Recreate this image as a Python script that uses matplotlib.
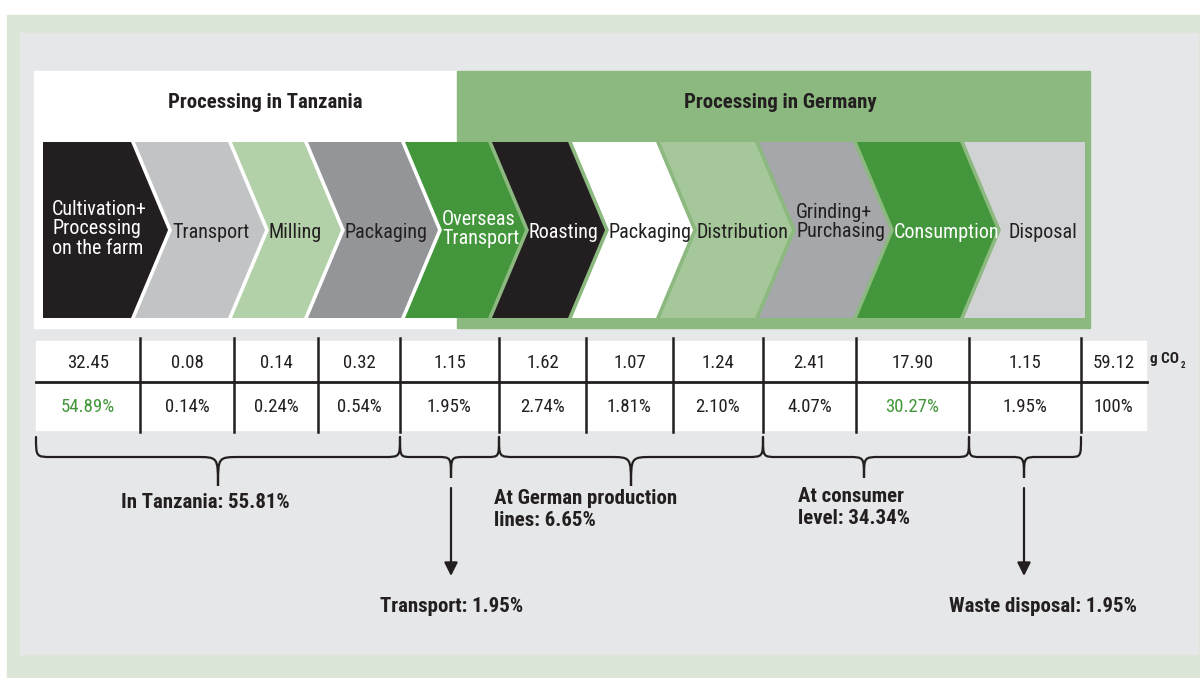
import matplotlib
matplotlib.use("Agg")
import matplotlib.pyplot as plt
from matplotlib.patches import Rectangle, Polygon, PathPatch
from matplotlib.path import Path

plt.rcParams['font.family'] = ['Roboto Condensed', 'DejaVu Sans']

# ---------------- data ----------------
stages = ['Cultivation+\nProcessing\non the farm', 'Transport', 'Milling', 'Packaging',
          'Overseas\nTransport', 'Roasting', 'Packaging', 'Distribution',
          'Grinding+\nPurchasing', 'Consumption', 'Disposal']
stage_colors = ['#231f20', '#c2c3c5', '#b3d1a8', '#949598', '#43963b', '#231f20',
                '#ffffff', '#a5c799', '#a6a7aa', '#43963b', '#d1d2d4']
stage_text_colors = ['#ffffff', '#231f20', '#231f20', '#231f20', '#ffffff', '#ffffff',
                     '#231f20', '#231f20', '#231f20', '#ffffff', '#231f20']
co2_values = [32.45, 0.08, 0.14, 0.32, 1.15, 1.62, 1.07, 1.24, 2.41, 17.90, 1.15, 59.12]
shares = [54.89, 0.14, 0.24, 0.54, 1.95, 2.74, 1.81, 2.10, 4.07, 30.27, 1.95, 100]
highlight = [True, False, False, False, False, False, False, False, False, True, False, False]
region_titles = ['Processing in Tanzania', 'Processing in Germany']
groups = ['In Tanzania: 55.81%', 'Transport: 1.95%', 'At German production\nlines: 6.65%',
          'At consumer\nlevel: 34.34%', 'Waste disposal: 1.95%']

# ---------------- layout ----------------
W, H = 1200, 678
DARK = '#231f20'
GREEN = '#43963b'
BOX_GREEN = '#8cb97f'
fig = plt.figure(figsize=(12, 6.78), dpi=100)
ax = fig.add_axes([0, 0, 1, 1])
ax.set_xlim(0, W)
ax.set_ylim(H, 0)
ax.axis('off')

ax.add_patch(Rectangle((0, 0), W, H, color='white', zorder=0))
ax.add_patch(Rectangle((7, 15), W, H, color='#dce6d6', zorder=0))
ax.add_patch(Rectangle((20, 33), 1178, 621, color='#e6e7e9', zorder=0))

# region boxes
ax.add_patch(Rectangle((34, 71), 423, 257, color='white', zorder=1))
ax.add_patch(Rectangle((457, 71), 633, 257, color=BOX_GREEN, zorder=1))
tfont = dict(fontsize=15, fontweight='bold', color=DARK, ha='center', va='center')
ax.text(265, 102, region_titles[0], **tfont)
ax.text(780, 102, region_titles[1], **tfont)

# chevrons
top, bot, mid, d = 142, 318, 230, 37
x_first, x_last = 43, 1085
xr = [133, 230, 306, 403, 490, 570, 658, 757, 855, 962]
n = len(stages)
for i in range(n):
    if i == 0:
        left = [(x_first, bot), (x_first, top)]
    else:
        left = [(xr[i - 1], bot), (xr[i - 1] + d, mid), (xr[i - 1], top)]
    if i == n - 1:
        right = [(x_last, top), (x_last, bot)]
    else:
        right = [(xr[i], top), (xr[i] + d, mid), (xr[i], bot)]
    ax.add_patch(Polygon(left + right, closed=True, facecolor=stage_colors[i],
                         edgecolor='none', zorder=2))
    tx = x_first + 9 if i == 0 else xr[i - 1] + d + 2
    if i == n - 1:
        tx += 8
    nlines = stages[i].count('\n') + 1
    if nlines == 1:
        ty = mid + 3
    elif i == 8:
        ty = mid - 8
    else:
        ty = mid - 1
    ax.text(tx, ty, stages[i], fontsize=14.5, color=stage_text_colors[i],
            ha='left', va='center', linespacing=1.05, zorder=4)
for x in xr:
    col = 'white' if x < 457 else BOX_GREEN
    ax.plot([x, x + d, x], [top, mid, bot], color=col, lw=2.6, zorder=3,
            solid_joinstyle='miter')

# table
bounds = [36, 140, 234, 318, 400, 499, 586, 673, 763, 856, 969, 1081, 1146]
t_top, t_mid, t_bot = 341, 382, 430
ax.add_patch(Rectangle((bounds[0], t_top), bounds[-1] - bounds[0], t_bot - t_top,
                       color='white', zorder=1))
ax.plot([bounds[0], bounds[-1] + 1], [t_mid, t_mid], color=DARK, lw=2.0, zorder=3)
for x in bounds[1:-1]:
    ax.plot([x, x], [t_top - 3, t_bot + 2], color=DARK, lw=1.8, zorder=3)
for i, (v, s) in enumerate(zip(co2_values, shares)):
    cx = (bounds[i] + bounds[i + 1]) / 2
    ax.text(cx, (t_top + t_mid) / 2 + 1, f'{v:.2f}', fontsize=13.5, color=DARK,
            ha='center', va='center', zorder=4)
    stxt = f'{s:.2f}%' if s != 100 else '100%'
    ax.text(cx, (t_mid + t_bot) / 2 + 1, stxt, fontsize=13.5,
            color=GREEN if highlight[i] else DARK, ha='center', va='center', zorder=4)
ax.text(1150, 359, 'g CO', fontsize=11, fontweight='bold', color=DARK,
        ha='left', va='center')
ax.text(1181, 365, '2', fontsize=6.5, fontweight='bold', color=DARK,
        ha='left', va='center')


# braces
def brace(x0, x1, xm, ytop, yh, ytip, r=16, r2=22):
    verts = [(x0, ytop), (x0, yh), (x0, yh), (x0 + r, yh),
             (xm - r2, yh),
             (xm, yh), (xm, yh), (xm, ytip),
             (xm, yh), (xm, yh), (xm + r2, yh),
             (x1 - r, yh),
             (x1, yh), (x1, yh), (x1, ytop)]
    codes = [Path.MOVETO, Path.CURVE4, Path.CURVE4, Path.CURVE4,
             Path.LINETO,
             Path.CURVE4, Path.CURVE4, Path.CURVE4,
             Path.CURVE4, Path.CURVE4, Path.CURVE4,
             Path.LINETO,
             Path.CURVE4, Path.CURVE4, Path.CURVE4]
    ax.add_patch(PathPatch(Path(verts, codes), facecolor='none', edgecolor=DARK,
                           lw=1.6, zorder=3, capstyle='round'))


brace(bounds[0], bounds[4], 218, 437, 457, 486)
brace(bounds[4], bounds[5], 451, 437, 457, 478, r=12, r2=14)
brace(bounds[5], bounds[8], 631, 437, 457, 486)
brace(bounds[8], bounds[10], 864, 437, 457, 478, r=14, r2=16)
brace(bounds[10], bounds[11], 1024, 437, 457, 478, r=12, r2=14)

for x in (451, 1024):
    ax.annotate('', xy=(x, 576), xytext=(x, 488),
                arrowprops=dict(arrowstyle='-|>', lw=1.6, color=DARK,
                                mutation_scale=20, shrinkA=0, shrinkB=0))

gfont = dict(fontsize=15, fontweight='bold', color=DARK, linespacing=1.2)
ax.text(205, 503, groups[0], ha='center', va='center', **gfont)
ax.text(452, 606, groups[1], ha='center', va='center', **gfont)
ax.text(494, 509, groups[2], ha='left', va='center', **gfont)
ax.text(798, 507, groups[3], ha='left', va='center', **gfont)
ax.text(1043, 606, groups[4], ha='center', va='center', **gfont)

fig.savefig('out.png', dpi=100)
